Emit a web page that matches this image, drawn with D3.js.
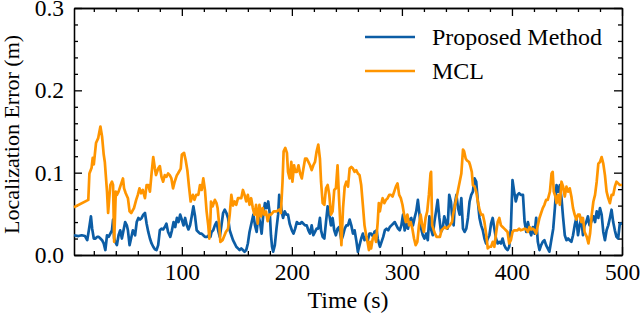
<!DOCTYPE html>
<html>
<head>
<meta charset="utf-8">
<script src="https://cdn.jsdelivr.net/npm/d3@7"></script>
<style>
  body { margin: 0; background: #fff; }
  .chart text { font-family: "Liberation Serif", "Times New Roman", serif; fill: #000; }
  .axis path, .axis line { stroke: #000; stroke-width: 1.3px; }
  .axis text { font-size: 23.5px; }
</style>
</head>
<body>
<div class="chart"></div>
<script>
// time (s) and localization error (m)
var timeProposed = [2,6,9,12,14,15.5,17.4,18.5,20,21.5,23,24.5,26,27.5,29,30.5,32,33.5,35,36.5,37.5,38.5,39.5,41,42.5,44,45.5,47,48.5,50,51,52.5,54.5,55.5,57.5,59,60.5,62,63.5,65,66.5,68,69.5,71,72.5,74,75.5,77,78.5,80,81.5,83,84.5,86,87.5,89.5,91,92.5,94,95.5,97,98.5,100,101.5,103,104.5,106,107.5,109,110.5,112,113.5,115,116.5,118,119.5,121,123,124.5,126,127,128.5,130,131.5,133,134.5,136,137.5,139,140.5,142,143.5,145,146.5,148,149.5,151,152.5,154,155.5,157,158.5,160,161.5,163.5,165,166.5,168,169.5,171,172.5,174,175.5,177,178.5,180,181,182,183,184.5,186,187.5,188.5,190,191,192,193.5,195,196.5,198,200,201.5,203,204.5,206,207.5,209,210.5,212,213.5,215,216.5,218,219.5,221,222.5,224,225.5,226.5,228,229.5,231,232.5,234,235.5,237,238.5,240,241.5,243,245,246.5,248,249.5,251,252.5,254,255.5,257,258.5,260,261.5,263,264.5,266,267.5,269,270.5,272,274,275,277,278,280,281.5,283,284.5,286,287.5,289,290.5,292,293.5,295,296.5,298,299.5,301,302.5,304,305.5,307,308.5,310,311.5,313,314.5,316,317.5,319,320.5,322,323.5,325,326.5,328,329.5,331,332.5,334,335.5,337,338.5,340,341.5,343,344.5,345.5,347,348,349.5,351,352.5,354,355.5,357,358.5,360,361.5,363,364.5,366,367.5,369,370.5,372,373.5,375,376.5,378,379.5,381,382.5,384,385.5,387,388.5,390,391.5,393,394.5,396,397.5,399,400.5,402,403.5,405,406.5,408,410,411.5,413,414.5,416,417.5,419,420.5,422,423.5,425,426.5,428,429.5,431,432.5,434,436,437.5,439,440.5,442,443.5,445,446.5,448,449.5,451,452.5,454,455.5,457,458.5,460,461.5,463,464.5,466,467.5,469,470.5,472,474,475.5,477,478.5,480,481.5,483,484.5,486,487.5,489,490.5,492,493.5,495,496.5,498,500];
var errorProposed = [.024,.023,.024,.023,.018,.030,.047,.032,.020,.020,.022,.022,.020,.018,.014,.006,.024,.022,.026,.030,.043,.020,.016,.012,.024,.030,.020,.030,.040,.036,.030,.012,.024,.030,.024,.040,.045,.043,.045,.049,.051,.038,.028,.020,.014,.010,.007,.006,.012,.030,.032,.031,.034,.038,.028,.022,.030,.040,.034,.045,.040,.049,.043,.036,.045,.036,.031,.036,.047,.059,.047,.030,.028,.026,.026,.024,.022,.022,.024,.022,.028,.030,.036,.040,.030,.022,.036,.051,.055,.051,.045,.030,.024,.018,.014,.010,.008,.006,.008,.006,.004,.006,.014,.028,.040,.049,.036,.028,.049,.040,.026,.049,.063,.057,.065,.049,.024,.010,.004,.012,.032,.049,.073,.061,.051,.045,.053,.049,.049,.038,.030,.026,.032,.040,.038,.038,.040,.038,.036,.036,.030,.026,.036,.024,.028,.032,.032,.045,.030,.022,.020,.040,.059,.049,.036,.045,.030,.024,.032,.034,.018,.024,.032,.036,.036,.043,.036,.026,.030,.018,.004,.012,.020,.026,.018,.022,.018,.026,.026,.022,.028,.030,.020,.010,.016,.022,.030,.032,.030,.034,.036,.038,.040,.036,.032,.030,.036,.049,.030,.038,.032,.043,.045,.036,.045,.053,.067,.049,.032,.024,.020,.026,.018,.047,.031,.024,.040,.053,.067,.045,.028,.032,.047,.040,.032,.073,.065,.049,.036,.061,.073,.057,.049,.069,.032,.028,.032,.045,.065,.073,.077,.093,.089,.065,.045,.036,.030,.020,.014,.020,.024,.038,.045,.032,.020,.014,.016,.014,.020,.012,.008,.006,.010,.032,.091,.077,.065,.073,.075,.073,.073,.040,.028,.040,.030,.024,.034,.026,.045,.016,.006,.012,.016,.018,.012,.008,.004,.020,.032,.057,.085,.077,.085,.069,.045,.024,.018,.020,.018,.016,.024,.036,.045,.024,.036,.045,.024,.036,.040,.047,.036,.040,.047,.040,.053,.045,.057,.049,.028,.018,.030,.036,.045,.055,.040,.030,.022,.020,.038,.038];

var timeMCL = [2,15,16,18,19,20,22,24,26,27.5,29,30,32,33,35,36.5,37.5,38.5,40,41,42.5,44,46.5,47.5,49,51,52.5,54,56.5,58.5,60,61.5,63,64.5,66.5,68,69.5,71,72.5,74,75.5,76.5,78.5,80,81.5,83,84.5,86,87.5,89,90.5,92,93.5,95.5,96.5,99,100,102,103.5,105,106.5,108,110,111.5,113,115,116.5,118,119.5,121,122.5,124,125,126,126.5,128,130,131.5,132.5,134,135,137,140,142,143.5,145,146.5,148,149.5,151,152.5,154,155.5,157,158.5,160,161.5,163,164.5,166,167.5,169,170.5,172,173.5,175,176.5,178,179.5,181,183.5,186,188.5,190,191.5,192.5,194,195.5,196.5,198,199.5,200.5,202,203,204.5,206,207.5,209,210.5,212,213.5,215,216.5,218,219.5,221,222.5,224,225.5,226.5,228,229.5,231,232.5,234,235.5,237,238.5,240,241.5,243,245,246.5,248,249.5,251,252.5,254,255.5,257,258.5,260,261.5,263,264.5,266,267.5,269,270,271,272,273.5,275,276.5,278,279,280,281,282.5,284,285.5,287,288.5,290,291.5,293,294.5,296,297.5,299,300.5,302,303.5,305,306.5,308,309.5,311,312.5,314,315.5,317,318.5,320,321.5,323,324.5,326,326.5,327.5,328.5,330,331.5,333,334.5,336,337.5,339,340.5,342,343.5,345.5,346.5,348,349.5,351,352.5,354,355.5,356.5,358,359,361,362,363.5,364.5,366,367.5,369,370.5,372,373.5,375,376.5,378,379.5,381,382.5,384,385.5,387,388.5,390,391.5,393,394.5,396,397.5,399,400.5,402,403.5,405,406.5,408,410,411.5,413,414.5,416,417.5,419,420.5,422,423.5,425,426.5,428,429.5,431,432.5,434.5,436,437,438,439.5,440.5,442,443.5,445,446.5,448,449.5,451,452.5,454,455.5,457,458.5,460,461.5,463,464.5,466,468,469.5,471,472.5,474,475.5,477,478.5,480,481.5,483,484.5,486,487.5,489,490.5,492,493.5,495,496.5,498,500];
var errorMCL = [.058,.067,.099,.106,.118,.110,.136,.142,.156,.144,.122,.113,.077,.051,.085,.089,.085,.016,.077,.073,.077,.083,.093,.081,.075,.069,.053,.051,.057,.067,.073,.081,.075,.079,.069,.085,.085,.077,.099,.119,.105,.097,.105,.108,.095,.089,.097,.095,.099,.097,.093,.081,.089,.097,.099,.105,.122,.124,.115,.103,.083,.065,.073,.067,.073,.073,.085,.079,.093,.079,.053,.036,.020,.045,.065,.059,.067,.063,.057,.036,.016,.018,.028,.032,.049,.073,.060,.065,.061,.069,.069,.069,.079,.073,.065,.073,.061,.069,.057,.049,.061,.038,.061,.047,.057,.049,.053,.041,.049,.049,.053,.053,.055,.051,.089,.126,.130,.124,.101,.093,.113,.089,.109,.101,.101,.109,.099,.093,.105,.117,.117,.113,.109,.103,.109,.113,.126,.134,.117,.089,.063,.061,.081,.085,.073,.049,.053,.079,.081,.109,.065,.012,.057,.083,.089,.083,.105,.107,.105,.101,.103,.099,.097,.085,.061,.036,.024,.014,.006,.016,.008,.020,.024,.016,.040,.063,.053,.061,.069,.063,.067,.069,.073,.073,.071,.077,.083,.087,.073,.069,.061,.049,.040,.049,.036,.040,.032,.020,.012,.016,.036,.049,.036,.028,.045,.053,.073,.099,.101,.036,.032,.026,.022,.022,.022,.030,.032,.034,.032,.034,.036,.040,.049,.059,.069,.079,.089,.099,.128,.126,.117,.115,.113,.109,.101,.085,.083,.077,.065,.055,.049,.049,.040,.026,.008,.010,.010,.016,.010,.026,.040,.045,.036,.034,.032,.030,.028,.014,.018,.028,.030,.030,.030,.032,.030,.031,.032,.031,.028,.034,.031,.032,.030,.026,.036,.045,.051,.057,.061,.067,.067,.077,.099,.101,.077,.071,.063,.073,.061,.089,.083,.071,.083,.077,.081,.071,.057,.049,.043,.049,.049,.040,.045,.028,.022,.014,.026,.049,.065,.073,.089,.111,.113,.119,.111,.097,.077,.069,.063,.073,.073,.083,.089,.087,.085,.085];

var xTicks = [100, 200, 300, 400, 500],
  yTicks = [0, 0.1, 0.2, 0.3],
  seriesNames = ['Proposed Method', 'MCL'],
  seriesColors = ['#0C5DA5', '#FF9500'];

var margin = { top: 8, right: 18, bottom: 63, left: 74 },
  width = 640 - margin.left - margin.right,
  height = 318 - margin.top - margin.bottom,
  majorTick = 8,
  minorTick = 4;

var svg = d3.select('.chart')
  .append('svg')
    .attr('width', 640)
    .attr('height', 318)
  .append('g')
    .attr('transform', `translate(${margin.left}, ${margin.top})`);

var xScale = d3.scaleLinear().domain([2, 500]).range([0, width]);
var yScale = d3.scaleLinear().domain([0, 0.3]).range([height, 0]);

// minor tick positions (every 20 s / 0.02 m), skipping the majors
var xMinor = d3.range(20, 500, 20).filter(d => d % 100 !== 0);
var yMinor = d3.range(1, 15).filter(i => i % 5 !== 0).map(i => i * 0.02);

function drawAxis(axis, values, size, fmt, transform, pad) {
  svg.append('g')
    .attr('class', 'axis')
    .attr('transform', transform)
    .call(axis.tickValues(values).tickSize(-size).tickSizeOuter(0)
      .tickPadding(pad).tickFormat(fmt));
}

var noLabel = () => '';
// bottom / left with labels
drawAxis(d3.axisBottom(xScale), xTicks, majorTick, d3.format('d'), `translate(0, ${height})`, 8);
drawAxis(d3.axisLeft(yScale), yTicks, majorTick, d3.format('.1f'), null, 10);
// minor ticks
drawAxis(d3.axisBottom(xScale), xMinor, minorTick, noLabel, `translate(0, ${height})`, 0);
drawAxis(d3.axisLeft(yScale), yMinor, minorTick, noLabel, null, 0);
// mirrored top / right
drawAxis(d3.axisTop(xScale), xTicks, majorTick, noLabel, null, 0);
drawAxis(d3.axisTop(xScale), xMinor, minorTick, noLabel, null, 0);
drawAxis(d3.axisRight(yScale), yTicks, majorTick, noLabel, `translate(${width}, 0)`, 0);
drawAxis(d3.axisRight(yScale), yMinor, minorTick, noLabel, `translate(${width}, 0)`, 0);

// lines, MCL last so it sits on top
var line = d3.line()
  .x(d => xScale(d[0]))
  .y(d => yScale(d[1]));

var series = [
  d3.zip(timeProposed, errorProposed),
  d3.zip(timeMCL, errorMCL)
];

series.forEach((s, i) => {
  svg.append('path')
    .datum(s)
    .attr('fill', 'none')
    .attr('stroke', seriesColors[i])
    .attr('stroke-width', 2.7)
    .attr('stroke-linejoin', 'round')
    .attr('d', line);
});

// axis titles
svg.append('text')
  .attr('x', width / 2)
  .attr('y', height + 53)
  .style('text-anchor', 'middle')
  .style('font-size', '24px')
  .text('Time (s)');

svg.append('text')
  .attr('transform', `translate(${-55}, ${height / 2 + 3}) rotate(-90)`)
  .style('text-anchor', 'middle')
  .style('font-size', '22px')
  .text('Localization Error (m)');

// legend
var legend = svg.selectAll('.legend')
  .data(seriesNames)
  .enter()
  .append('g')
    .attr('class', 'legend')
    .attr('transform', (d, i) => `translate(${291}, ${29 + i * 34})`);

legend.append('line')
  .attr('x1', 0)
  .attr('x2', 50)
  .attr('stroke', (d, i) => seriesColors[i])
  .attr('stroke-width', 2.7);

legend.append('text')
  .attr('x', 67)
  .attr('dy', '0.33em')
  .style('font-size', '24px')
  .text(d => d);
</script>
</body>
</html>
